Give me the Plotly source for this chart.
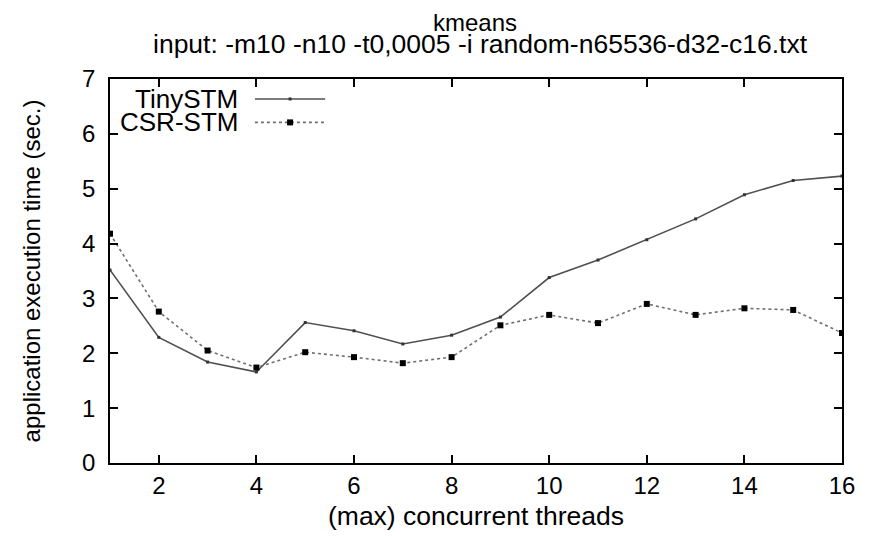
import plotly.graph_objects as go

threads = list(range(1, 17))
tinystm = [3.52, 2.29, 1.84, 1.66, 2.56, 2.41, 2.17, 2.33, 2.66, 3.38, 3.70, 4.07, 4.45, 4.89, 5.15, 5.23]
csrstm = [4.18, 2.76, 2.05, 1.74, 2.02, 1.93, 1.82, 1.93, 2.51, 2.70, 2.55, 2.90, 2.70, 2.82, 2.79, 2.37]
series_names = ["TinySTM", "CSR-STM"]
x_ticks = [2, 4, 6, 8, 10, 12, 14, 16]
y_ticks = [0, 1, 2, 3, 4, 5, 6, 7]
title_lines = ["kmeans", "input: -m10 -n10 -t0,0005 -i random-n65536-d32-c16.txt"]

FONT = "Liberation Sans, Arial, sans-serif"

fig = go.Figure()
fig.add_trace(go.Scatter(
    x=threads, y=tinystm, name=series_names[0], mode="lines+markers",
    line=dict(color="#505050", width=1.6, dash="solid"),
    marker=dict(symbol="square", size=3, color="#333333"),
    showlegend=False,
))
fig.add_trace(go.Scatter(
    x=threads, y=csrstm, name=series_names[1], mode="lines+markers",
    line=dict(color="#707070", width=1.6, dash="dot"),
    marker=dict(symbol="square", size=6, color="#000000"),
    showlegend=False,
))

# gnuplot-style legend: right-aligned text, sample to the right
PW, PH = 732, 384
legend_rows = [
    (series_names[0], 0.948, "solid", "#505050", 3),
    (series_names[1], 0.887, "dot", "#707070", 6),
]
for name, yy, dash, col, msz in legend_rows:
    fig.add_annotation(x=0.177, y=yy, xref="paper", yref="paper", text=name,
                       showarrow=False, xanchor="right", yanchor="middle",
                       font=dict(family=FONT, size=26, color="#000000"))
    fig.add_shape(type="line", xref="paper", yref="paper",
                  x0=0.198, x1=0.294, y0=yy, y1=yy,
                  line=dict(color=col, width=1.6, dash=dash))
    half = msz / 2 / PW
    halfy = msz / 2 / PH
    fig.add_shape(type="rect", xref="paper", yref="paper",
                  x0=0.246 - half, x1=0.246 + half, y0=yy - halfy, y1=yy + halfy,
                  fillcolor="#000000" if msz > 4 else "#333333", line=dict(width=0))

# two-line title
fig.add_annotation(x=0.4986, y=1.147, xref="paper", yref="paper", text=title_lines[0],
                   showarrow=False, xanchor="center", yanchor="middle",
                   font=dict(family=FONT, size=24, color="#000000"))
fig.add_annotation(x=0.506, y=1.092, xref="paper", yref="paper", text=title_lines[1],
                   showarrow=False, xanchor="center", yanchor="middle",
                   font=dict(family=FONT, size=26.5, color="#000000"))

fig.update_layout(
    width=869, height=530,
    margin=dict(l=102, r=35, t=71, b=75, autoexpand=False),
    paper_bgcolor="white", plot_bgcolor="white",
    font=dict(family=FONT, size=24, color="#000000"),
    xaxis=dict(
        range=[1, 16], tickvals=x_ticks, ticks="inside", ticklen=8, tickwidth=1.5,
        tickcolor="#000000", showline=True, linecolor="#000000", linewidth=1.6,
        mirror="ticks", showgrid=False, zeroline=False,
        title=dict(text="(max) concurrent threads", standoff=9,
                   font=dict(family=FONT, size=26.5)),
        tickfont=dict(family=FONT, size=24),
    ),
    yaxis=dict(
        range=[0, 7], tickvals=y_ticks, ticks="inside", ticklen=8, tickwidth=1.5,
        tickcolor="#000000", showline=True, linecolor="#000000", linewidth=1.6,
        mirror="ticks", showgrid=False, zeroline=False, ticklabelstandoff=8,
        title=dict(text="application execution time (sec.)", standoff=35,
                   font=dict(family=FONT, size=24)),
        tickfont=dict(family=FONT, size=24),
    ),
)

fig.write_html("out.html")
